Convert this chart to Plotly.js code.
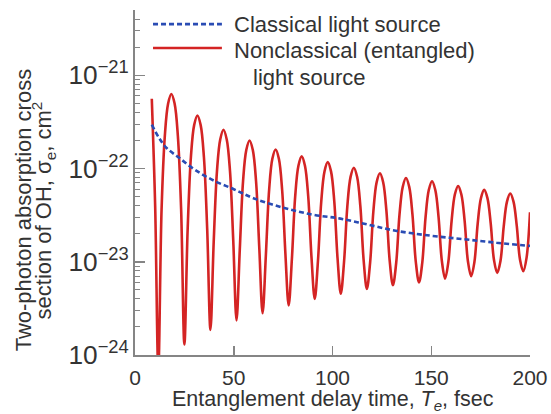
<!DOCTYPE html>
<html>
<head>
<meta charset="utf-8">
<script src="https://cdn.plot.ly/plotly-3.0.1.min.js"></script>
<style>html,body{margin:0;padding:0;background:#fff;}#chart{width:551px;height:414px;}</style>
</head>
<body>
<div id="chart"></div>
<script>
// Classical light source (dashed blue)
const classicalX = [8.5, 12, 16, 22, 30, 40, 50, 60, 75, 90, 104, 118, 132, 150, 166, 183, 200];
const classicalY = [2.95e-22, 2.16e-22, 1.66e-22, 1.32e-22, 9.8e-23, 7.4e-23, 6.0e-23, 4.8e-23, 3.8e-23,
                    3.2e-23, 2.9e-23, 2.5e-23, 2.15e-23, 1.9e-23, 1.75e-23, 1.6e-23, 1.48e-23];

// Nonclassical (entangled) light source (solid red)
const entangledX = [
  8.5, 10.2,
  11.8, 13.45, 15.1, 16.75, 18.4, 20.05, 21.7, 23.35,
  25.0, 26.65, 28.3, 29.95, 31.6, 33.25, 34.9, 36.55,
  38.2, 39.85, 41.5, 43.15, 44.8, 46.45, 48.1, 49.75,
  51.4, 53.05, 54.7, 56.35, 58.0, 59.65, 61.3, 62.95,
  64.6, 66.25, 67.9, 69.55, 71.2, 72.85, 74.5, 76.15,
  77.8, 79.45, 81.1, 82.75, 84.4, 86.05, 87.7, 89.35,
  91.0, 92.65, 94.3, 95.95, 97.6, 99.25, 100.9, 102.55,
  104.2, 105.85, 107.5, 109.15, 110.8, 112.45, 114.1, 115.75,
  117.4, 119.05, 120.7, 122.35, 124.0, 125.65, 127.3, 128.95,
  130.6, 132.25, 133.9, 135.55, 137.2, 138.85, 140.5, 142.15,
  143.8, 145.45, 147.1, 148.75, 150.4, 152.05, 153.7, 155.35,
  157.0, 158.65, 160.3, 161.95, 163.6, 165.25, 166.9, 168.55,
  170.2, 171.85, 173.5, 175.15, 176.8, 178.45, 180.1, 181.75,
  183.4, 185.05, 186.7, 188.35, 190.0, 191.65, 193.3, 194.95,
  196.6, 198.25, 200
];
const entangledY = [
  5.6e-22, 4.0e-23,
  7.0e-25, 3.6e-23, 2.23e-22, 4.96e-22, 6.3e-22, 4.97e-22, 2.24e-22, 3.65e-23,
  1.3e-24, 2.19e-23, 1.32e-22, 2.92e-22, 3.7e-22, 2.92e-22, 1.32e-22, 2.25e-23,
  1.86e-24, 1.63e-23, 9.33e-23, 2.05e-22, 2.6e-22, 2.05e-22, 9.36e-23, 1.68e-23,
  2.35e-24, 1.34e-23, 7.23e-23, 1.58e-22, 2.0e-22, 1.58e-22, 7.26e-23, 1.38e-23,
  2.8e-24, 1.16e-23, 5.84e-23, 1.27e-22, 1.6e-22, 1.27e-22, 5.88e-23, 1.22e-23,
  3.4e-24, 1.08e-23, 5.0e-23, 1.07e-22, 1.35e-22, 1.07e-22, 5.04e-23, 1.13e-23,
  4.0e-24, 1.03e-23, 4.4e-23, 9.3e-23, 1.17e-22, 9.32e-23, 4.44e-23, 1.09e-23,
  4.55e-24, 1.0e-23, 3.91e-23, 8.13e-23, 1.02e-22, 8.15e-23, 3.94e-23, 1.05e-23,
  5.1e-24, 9.8e-24, 3.48e-23, 7.12e-23, 8.9e-23, 7.13e-23, 3.51e-23, 1.03e-23,
  5.6e-24, 9.7e-24, 3.16e-23, 6.34e-23, 7.9e-23, 6.35e-23, 3.18e-23, 1.01e-23,
  6.0e-24, 9.75e-24, 2.97e-23, 5.88e-23, 7.3e-23, 5.89e-23, 3.01e-23, 1.03e-23,
  6.6e-24, 9.9e-24, 2.73e-23, 5.26e-23, 6.5e-23, 5.27e-23, 2.75e-23, 1.02e-23,
  7.0e-24, 9.9e-24, 2.54e-23, 4.8e-23, 5.9e-23, 4.81e-23, 2.58e-23, 1.05e-23,
  7.6e-24, 1.02e-23, 2.4e-23, 4.42e-23, 5.4e-23, 4.42e-23, 2.42e-23, 1.05e-23,
  7.9e-24, 1.1e-23, 3.4e-23
];

const xTickVals = [0, 50, 100, 150, 200];
const legendLabels = ["Classical light source", "Nonclassical (entangled)", "light source"];

const RED = "#d42424";
const BLUE = "#2a4cb4";
const TXT = "#333333";
const AXC = "#858585";
const FONT = "Liberation Sans, Arial, Helvetica, sans-serif";

const traces = [
  {x: entangledX, y: entangledY, type: "scatter", mode: "lines", name: legendLabels[1],
   line: {color: RED, width: 2.6, shape: "spline", smoothing: 1}, showlegend: false, hoverinfo: "skip"},
  {x: classicalX, y: classicalY, type: "scatter", mode: "lines", name: legendLabels[0],
   line: {color: BLUE, width: 2.6, dash: "5px,3px", shape: "spline"}, showlegend: false, hoverinfo: "skip"}
];

const layout = {
  width: 551, height: 414,
  margin: {l: 135, r: 21, t: 10, b: 59},
  paper_bgcolor: "#fff", plot_bgcolor: "#fff",
  font: {family: FONT, size: 21, color: TXT},
  showlegend: false,
  xaxis: {
    range: [0, 200], tickvals: xTickVals, ticktext: xTickVals.map(String),
    showgrid: false, zeroline: false, showline: true, linecolor: AXC, linewidth: 2,
    ticks: "inside", ticklen: 9, tickwidth: 1.5, tickcolor: AXC,
    tickfont: {size: 21, color: TXT}, ticklabelstandoff: 3
  },
  yaxis: {
    type: "log", range: [-24, -20.3], dtick: 1, exponentformat: "power",
    showgrid: false, zeroline: false, showline: true, linecolor: AXC, linewidth: 2,
    ticks: "inside", ticklen: 10, tickwidth: 1.5, tickcolor: AXC,
    minor: {ticks: "inside", ticklen: 5, tickwidth: 1, tickcolor: AXC, dtick: "D1", showgrid: false},
    tickfont: {size: 21, color: TXT}
  },
  shapes: [
    {type: "line", xref: "paper", yref: "paper", x0: 0.0456, x1: 0.22, y0: 0.959, y1: 0.959,
     line: {color: BLUE, width: 2.6, dash: "5px,3px"}},
    {type: "line", xref: "paper", yref: "paper", x0: 0.0456, x1: 0.22, y0: 0.89, y1: 0.89,
     line: {color: RED, width: 2.6}}
  ],
  annotations: [
    {text: legendLabels[0], xref: "paper", yref: "paper", x: 0.245, y: 0.959, xanchor: "left", yanchor: "middle",
     showarrow: false, font: {size: 22, color: TXT}},
    {text: legendLabels[1], xref: "paper", yref: "paper", x: 0.245, y: 0.884, xanchor: "left", yanchor: "middle",
     showarrow: false, font: {size: 22, color: TXT}},
    {text: legendLabels[2], xref: "paper", yref: "paper", x: 0.293, y: 0.803, xanchor: "left", yanchor: "middle",
     showarrow: false, font: {size: 22, color: TXT}},
    {text: "Two-photon absorption cross", xref: "paper", yref: "paper", x: -0.283, y: 0.42,
     xanchor: "center", yanchor: "middle", textangle: -90, showarrow: false, font: {size: 22, color: TXT}},
    {text: "section of OH, σ<sub>e</sub>, cm<sup>2</sup>", xref: "paper", yref: "paper", x: -0.232, y: 0.42,
     xanchor: "center", yanchor: "middle", textangle: -90, showarrow: false, font: {size: 22, color: TXT}},
    {text: "Entanglement delay time, <i>T</i><sub><i>e</i></sub>, fsec", xref: "paper", yref: "paper", x: 0.5, y: -0.133,
     xanchor: "center", yanchor: "middle", showarrow: false, font: {size: 21.5, color: TXT}}
  ]
};

Plotly.newPlot("chart", traces, layout, {displayModeBar: false, staticPlot: true});
</script>
</body>
</html>
